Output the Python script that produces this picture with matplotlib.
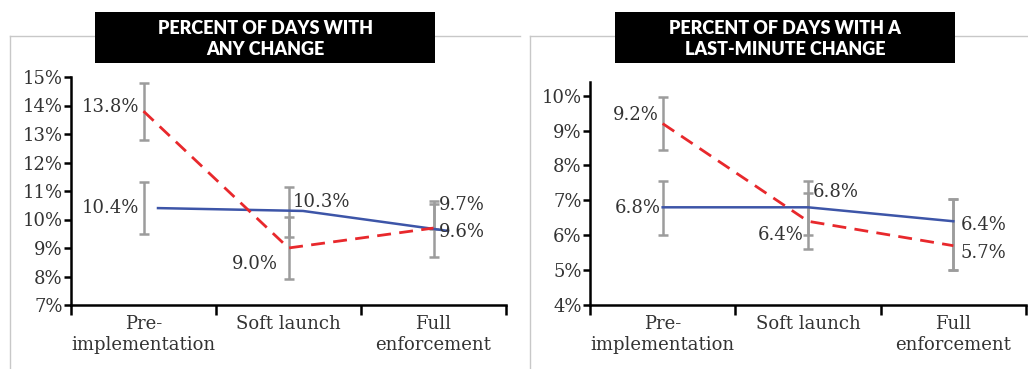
import matplotlib
matplotlib.use('Agg')
import matplotlib.pyplot as plt
from matplotlib.patches import Rectangle
from matplotlib.lines import Line2D

PHASES = ['Pre-\nimplementation', 'Soft launch', 'Full\nenforcement']

# panel 1: any change
ANY_TITLE = 'PERCENT OF DAYS WITH\nANY CHANGE'
ANY_BLUE = [10.4, 10.3, 9.6]
ANY_BLUE_LO = [9.5, 9.4, 8.7]
ANY_BLUE_HI = [11.3, 11.15, 10.65]
ANY_RED = [13.8, 9.0, 9.7]
ANY_RED_LO = [12.8, 7.9, 9.65]
ANY_RED_HI = [14.8, 10.1, 10.55]
ANY_TICKS = [7, 8, 9, 10, 11, 12, 13, 14, 15]

# panel 2: last-minute change
LM_TITLE = 'PERCENT OF DAYS WITH A\nLAST-MINUTE CHANGE'
LM_BLUE = [6.8, 6.8, 6.4]
LM_BLUE_LO = [6.0, 6.0, 5.0]
LM_BLUE_HI = [7.55, 7.55, 7.05]
LM_RED = [9.2, 6.4, 5.7]
LM_RED_LO = [8.45, 5.6, 5.0]
LM_RED_HI = [9.95, 7.2, 7.05]
LM_TICKS = [4, 5, 6, 7, 8, 9, 10]

BLUE = '#3d55a8'
RED = '#e8282c'
GRAY = '#9c9c9c'
TXT = '#333333'
SERIF = 'DejaVu Serif'
FS = 13

W, H = 1028, 369
fig = plt.figure(figsize=(W / 100, H / 100), dpi=100)


def fx(px):
    return px / W


def fy(py):
    return 1 - py / H


def panel(rect, ylim, ticks, blue, blo, bhi, red, rlo, rhi, blue_shift, labels):
    ax = fig.add_axes(rect)
    xs = [1, 2, 3]
    for vals, lo, hi in ((blue, blo, bhi), (red, rlo, rhi)):
        ax.errorbar(xs, vals, yerr=[[v - l for v, l in zip(vals, lo)],
                                    [h - v for v, h in zip(vals, hi)]],
                    fmt='none', ecolor=GRAY, elinewidth=1.8, capsize=3.5,
                    capthick=1.8, zorder=2)
    ax.plot([x + blue_shift for x in xs], blue, color=BLUE, lw=1.8, zorder=3)
    ax.plot(xs, red, color=RED, lw=2.0, ls=(0, (5, 3)), zorder=3)
    for x, y, txt, ha in labels:
        ax.text(x, y, txt, ha=ha, va='center', fontsize=FS,
                family=SERIF, color=TXT)
    ax.set_xlim(0.5, 3.5)
    ax.set_ylim(*ylim)
    ax.set_yticks(ticks)
    ax.set_yticklabels([f'{t}%' for t in ticks], family=SERIF, fontsize=FS,
                       color=TXT)
    ax.set_xticks(xs)
    ax.set_xticklabels(PHASES, family=SERIF, fontsize=FS, va='top',
                       color=TXT, linespacing=1.25)
    ax.set_xticks([0.5, 1.5, 2.5, 3.5], minor=True)
    ax.tick_params(axis='x', which='major', length=0, pad=7)
    ax.tick_params(axis='x', which='minor', length=7, width=1.8,
                   direction='out')
    ax.tick_params(axis='y', length=5, width=1.8, pad=1)
    for side in ('top', 'right'):
        ax.spines[side].set_visible(False)
    for side in ('left', 'bottom'):
        ax.spines[side].set_linewidth(1.8)
    ax.patch.set_alpha(0)
    return ax


panel([fx(71), fy(305), fx(506 - 71), fy(77) - fy(305)], (7, 15), ANY_TICKS,
      ANY_BLUE, ANY_BLUE_LO, ANY_BLUE_HI, ANY_RED, ANY_RED_LO, ANY_RED_HI, 0.1,
      [(0.97, 13.95, '13.8%', 'right'),
       (0.97, 10.4, '10.4%', 'right'),
       (2.03, 10.6, '10.3%', 'left'),
       (1.93, 8.45, '9.0%', 'right'),
       (3.04, 10.5, '9.7%', 'left'),
       (3.04, 9.55, '9.6%', 'left')])

panel([fx(590), fy(305), fx(1026 - 590), fy(81.7) - fy(305)], (4, 10.4),
      LM_TICKS, LM_BLUE, LM_BLUE_LO, LM_BLUE_HI, LM_RED, LM_RED_LO, LM_RED_HI,
      0.0,
      [(0.97, 9.45, '9.2%', 'right'),
       (0.99, 6.78, '6.8%', 'right'),
       (2.03, 7.25, '6.8%', 'left'),
       (1.97, 6.01, '6.4%', 'right'),
       (3.05, 6.3, '6.4%', 'left'),
       (3.05, 5.5, '5.7%', 'left')])

# thin frames around each panel
for x0, x1 in ((10, 520), (530, 1028)):
    fig.add_artist(Line2D([fx(x0), fx(x1)], [fy(36), fy(36)], color='#c8c8c8',
                          lw=1.0, transform=fig.transFigure))
    fig.add_artist(Line2D([fx(x0), fx(x0)], [fy(36), 0], color='#c8c8c8',
                          lw=1.0, transform=fig.transFigure))

# black title boxes
for x0, title in ((95, ANY_TITLE), (615, LM_TITLE)):
    fig.add_artist(Rectangle((fx(x0), fy(63)), fx(340), fy(12) - fy(63),
                             facecolor='black', edgecolor='none',
                             transform=fig.transFigure, zorder=5))
    fig.text(fx(x0 + 170), fy(39), title, ha='center', va='center',
             color='white', fontsize=13, fontweight='heavy', family='Lato',
             linespacing=1.3, zorder=6)

fig.savefig('out.png', dpi=100)
